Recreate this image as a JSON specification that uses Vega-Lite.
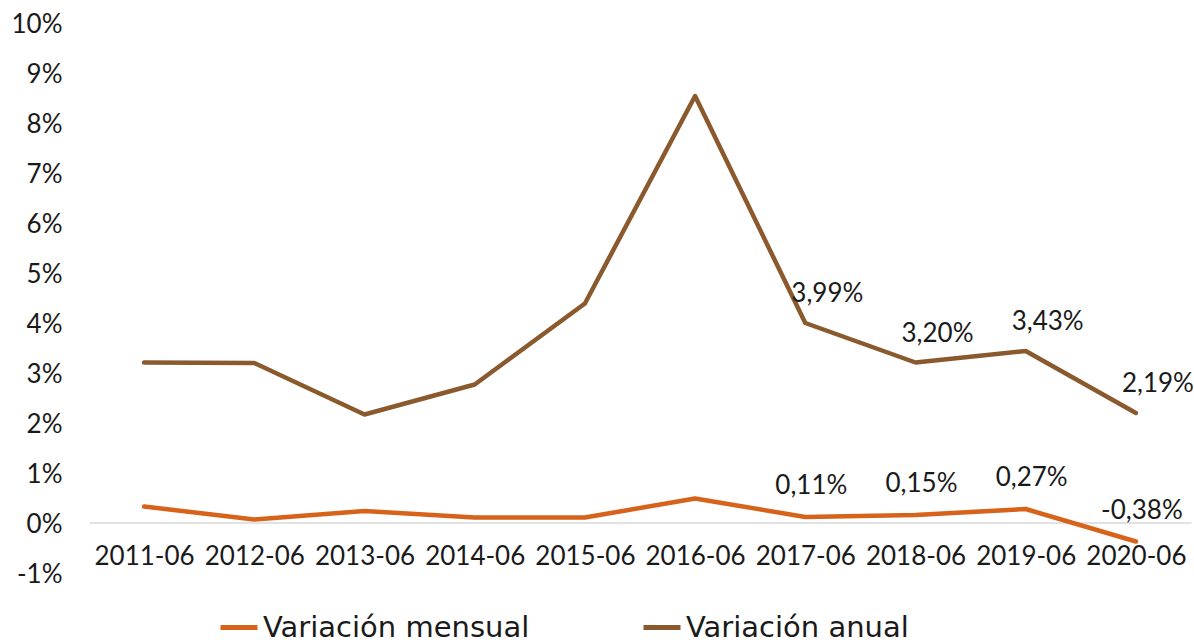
{
  "$schema": "https://vega.github.io/schema/vega-lite/v6.json",
  "width": 1102,
  "height": 550,
  "autosize": "none",
  "padding": {"left": 89, "top": 22.5, "right": 3, "bottom": 69.5},
  "background": "white",
  "config": {
    "locale": {"number": {"decimal": ",", "thousands": ".", "grouping": [3], "currency": ["", " €"], "minus": "-"}},
    "font": "Lato",
    "view": {"stroke": null}
  },
  "data": {
    "values": [
      {"fecha": "2011-06", "serie": "Variación mensual", "valor": 0.0032},
      {"fecha": "2012-06", "serie": "Variación mensual", "valor": 0.0006},
      {"fecha": "2013-06", "serie": "Variación mensual", "valor": 0.0023},
      {"fecha": "2014-06", "serie": "Variación mensual", "valor": 0.0010},
      {"fecha": "2015-06", "serie": "Variación mensual", "valor": 0.0010},
      {"fecha": "2016-06", "serie": "Variación mensual", "valor": 0.0048},
      {"fecha": "2017-06", "serie": "Variación mensual", "valor": 0.0011},
      {"fecha": "2018-06", "serie": "Variación mensual", "valor": 0.0015},
      {"fecha": "2019-06", "serie": "Variación mensual", "valor": 0.0027},
      {"fecha": "2020-06", "serie": "Variación mensual", "valor": -0.0038},
      {"fecha": "2011-06", "serie": "Variación anual", "valor": 0.0320},
      {"fecha": "2012-06", "serie": "Variación anual", "valor": 0.0319},
      {"fecha": "2013-06", "serie": "Variación anual", "valor": 0.0216},
      {"fecha": "2014-06", "serie": "Variación anual", "valor": 0.0276},
      {"fecha": "2015-06", "serie": "Variación anual", "valor": 0.0438},
      {"fecha": "2016-06", "serie": "Variación anual", "valor": 0.0853},
      {"fecha": "2017-06", "serie": "Variación anual", "valor": 0.0399},
      {"fecha": "2018-06", "serie": "Variación anual", "valor": 0.0320},
      {"fecha": "2019-06", "serie": "Variación anual", "valor": 0.0343},
      {"fecha": "2020-06", "serie": "Variación anual", "valor": 0.0219}
    ]
  },
  "encoding": {
    "x": {
      "field": "fecha", "type": "ordinal",
      "scale": {"type": "point", "padding": 0.5},
      "axis": {
        "title": null, "labelAngle": 0, "ticks": false, "grid": false,
        "offset": -50, "domainColor": "#D9D9D9", "domainWidth": 1.5,
        "labelFontSize": 26, "labelColor": "#1a1a1a", "labelPadding": 21
      }
    },
    "y": {
      "field": "valor", "type": "quantitative",
      "scale": {"domain": [-0.01, 0.10], "nice": false, "zero": false},
      "axis": {
        "title": null, "format": ".0%", "grid": false, "ticks": false, "domain": false,
        "values": [-0.01, 0, 0.01, 0.02, 0.03, 0.04, 0.05, 0.06, 0.07, 0.08, 0.09, 0.10],
        "labelFontSize": 26, "labelColor": "#1a1a1a", "labelPadding": 27, "labelOffset": 2
      }
    }
  },
  "layer": [
    {
      "mark": {"type": "line", "strokeWidth": 4.5, "strokeCap": "round", "strokeJoin": "round"},
      "encoding": {
        "color": {
          "field": "serie", "type": "nominal",
          "scale": {"domain": ["Variación mensual", "Variación anual"], "range": ["#D7621A", "#8A5A2E"]},
          "legend": {
            "title": null, "orient": "none", "direction": "horizontal",
            "legendX": 129, "legendY": 584,
            "symbolType": "stroke", "symbolSize": 1369, "symbolStrokeWidth": 5,
            "labelFont": "DejaVu Sans", "labelFontSize": 29, "labelColor": "#1a1a1a", "labelOffset": 3,
            "columnPadding": 103, "labelLimit": 400
          }
        }
      }
    },
    {
      "transform": [{"filter": "datum.fecha >= '2017-06' && datum.serie == 'Variación anual'"}],
      "mark": {"type": "text", "fontSize": 26, "dx": 22, "dy": -29, "color": "#1a1a1a"},
      "encoding": {"text": {"field": "valor", "type": "quantitative", "format": ".2%"}}
    },
    {
      "transform": [{"filter": "datum.fecha >= '2017-06' && datum.serie == 'Variación mensual'"}],
      "mark": {"type": "text", "fontSize": 26, "dx": 6, "dy": -31, "color": "#1a1a1a"},
      "encoding": {"text": {"field": "valor", "type": "quantitative", "format": ".2%"}}
    }
  ]
}
